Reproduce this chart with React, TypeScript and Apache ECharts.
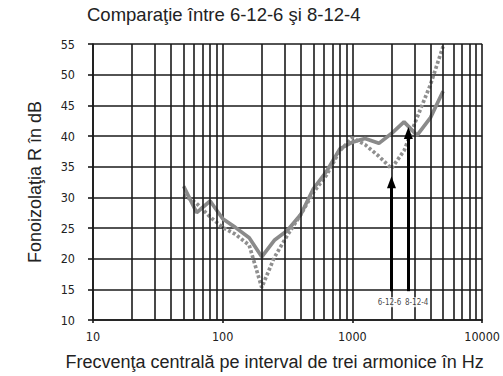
import React, { useEffect, useRef } from "react";
import * as echarts from "echarts";

const freqs = [50, 63, 80, 100, 125, 160, 200, 250, 315, 400, 500, 630, 800, 1000, 1250, 1600, 2000, 2500, 3150, 4000, 5000];
const series6126 = [31.8, 27.5, 29.4, 26.5, 25.1, 23.4, 20.3, 23.0, 24.6, 27.2, 31.4, 34.2, 37.9, 39.0, 39.6, 38.8, 40.4, 42.3, 40.1, 43.0, 47.3];
const series8124 = [30.4, 29.0, 26.8, 25.1, 24.0, 22.2, 15.3, 20.2, 23.8, 27.2, 30.8, 33.6, 37.6, 39.7, 38.6, 36.7, 34.7, 37.6, 43.0, 48.4, 54.6];
const minorFreqs = [20, 30, 40, 50, 60, 70, 80, 90, 200, 300, 400, 500, 600, 700, 800, 900, 2000, 3000, 4000, 5000, 6000, 7000, 8000, 9000];
const arrowNames = ["6-12-6", "8-12-4"];
const arrowX = [2000, 2700];
const arrowBase = [14.7, 14.7];
const arrowEnd = [32.45, 40.5];
const arrowLabelX = [1930, 3130];
const arrowLabelY = [12.9, 12.9];

const TITLE = "Comparaţie între 6-12-6 şi 8-12-4";
const X_NAME = "Frecvenţa centrală pe interval de trei armonice în Hz";
const Y_NAME = "Fonoizolaţia R în dB";

const narrow = "'DejaVu Sans Condensed', 'Liberation Sans Narrow', sans-serif";
const sans = "'Liberation Sans', Arial, sans-serif";

export default function App() {
  const ref = useRef<HTMLDivElement>(null);
  useEffect(() => {
    document.body.style.margin = "0";
    const chart = echarts.init(ref.current!, null, { renderer: "svg" });
    const gridColor = "#1a1a1a";
    const gw = 1.6;
    chart.setOption({
      animation: false,
      backgroundColor: "#ffffff",
      title: {
        text: TITLE,
        left: 87,
        top: 5,
        padding: 0,
        textStyle: { fontFamily: sans, fontSize: 18.5, fontWeight: "normal", color: "#222" },
      },
      grid: { left: 93, right: 20, top: 44, bottom: 52 },
      xAxis: {
        type: "log",
        logBase: 10,
        min: 10,
        max: 10000,
        name: X_NAME,
        nameLocation: "middle",
        nameGap: 33,
        nameTextStyle: { fontFamily: sans, fontSize: 18, color: "#222", padding: [0, 26, 0, 0] },
        axisLine: { show: true, lineStyle: { color: gridColor, width: gw } },
        axisTick: { show: true, length: 3, lineStyle: { color: gridColor, width: gw } },
        axisLabel: {
          fontFamily: narrow,
          fontSize: 12.5,
          color: "#222",
          margin: 10,
          formatter: (v: number) => String(Math.round(v)),
        },
        splitLine: { show: true, lineStyle: { color: gridColor, width: gw } },
      },
      yAxis: {
        type: "value",
        min: 10,
        max: 55,
        interval: 5,
        name: Y_NAME,
        nameLocation: "middle",
        nameGap: 49,
        nameTextStyle: { fontFamily: sans, fontSize: 18, color: "#222" },
        axisLine: { show: true, lineStyle: { color: gridColor, width: gw } },
        axisTick: { show: true, length: 5, lineStyle: { color: gridColor, width: gw } },
        axisLabel: { fontFamily: narrow, fontSize: 12.5, color: "#222", margin: 18 },
        splitLine: { show: true, lineStyle: { color: gridColor, width: gw } },
      },
      series: [
        {
          type: "line",
          name: "grid",
          data: [],
          z: 1,
          silent: true,
          markLine: {
            silent: true,
            symbol: ["none", "none"],
            label: { show: false },
            lineStyle: { color: gridColor, width: gw, type: "solid" },
            emphasis: { disabled: true },
            data: minorFreqs.map((f) => ({ xAxis: f })),
          },
        },
        {
          type: "line",
          name: "6-12-6",
          data: freqs.map((f, i) => [f, series6126[i]]),
          showSymbol: false,
          symbol: "none",
          z: 3,
          lineStyle: { color: "#8a8a8a", width: 3.7, type: "solid" },
        },
        {
          type: "line",
          name: "8-12-4",
          data: freqs.map((f, i) => [f, series8124[i]]),
          showSymbol: false,
          symbol: "none",
          z: 3,
          lineStyle: { color: "#8f8f8f", width: 3.7, type: [3, 2.2] },
        },
        {
          type: "line",
          name: "arrows",
          data: [],
          z: 4,
          silent: true,
          markLine: {
            silent: true,
            symbol: ["none", "triangle"],
            symbolSize: [9, 12],
            label: { show: false },
            lineStyle: { color: "#000", width: 3, type: "solid" },
            emphasis: { disabled: true },
            data: arrowX.map((x, i) => [
              { coord: [x, arrowBase[i]] },
              { coord: [x, arrowEnd[i]] },
            ]),
          },
        },
        {
          type: "scatter",
          name: "arrowLabels",
          z: 6,
          silent: true,
          symbolSize: 0,
          data: arrowNames.map((n, i) => ({ name: n, value: [arrowLabelX[i], arrowLabelY[i]] })),
          label: {
            show: true,
            position: "inside",
            formatter: (p: any) => p.name,
            fontFamily: narrow,
            fontSize: 8,
            color: "#111",
            backgroundColor: "#ffffff",
            padding: [1, 0, 1, 0],
          },
        },
      ],
    });
    return () => chart.dispose();
  }, []);
  return <div ref={ref} style={{ position: "fixed", left: 0, top: 0, width: 503, height: 376 }} />;
}
